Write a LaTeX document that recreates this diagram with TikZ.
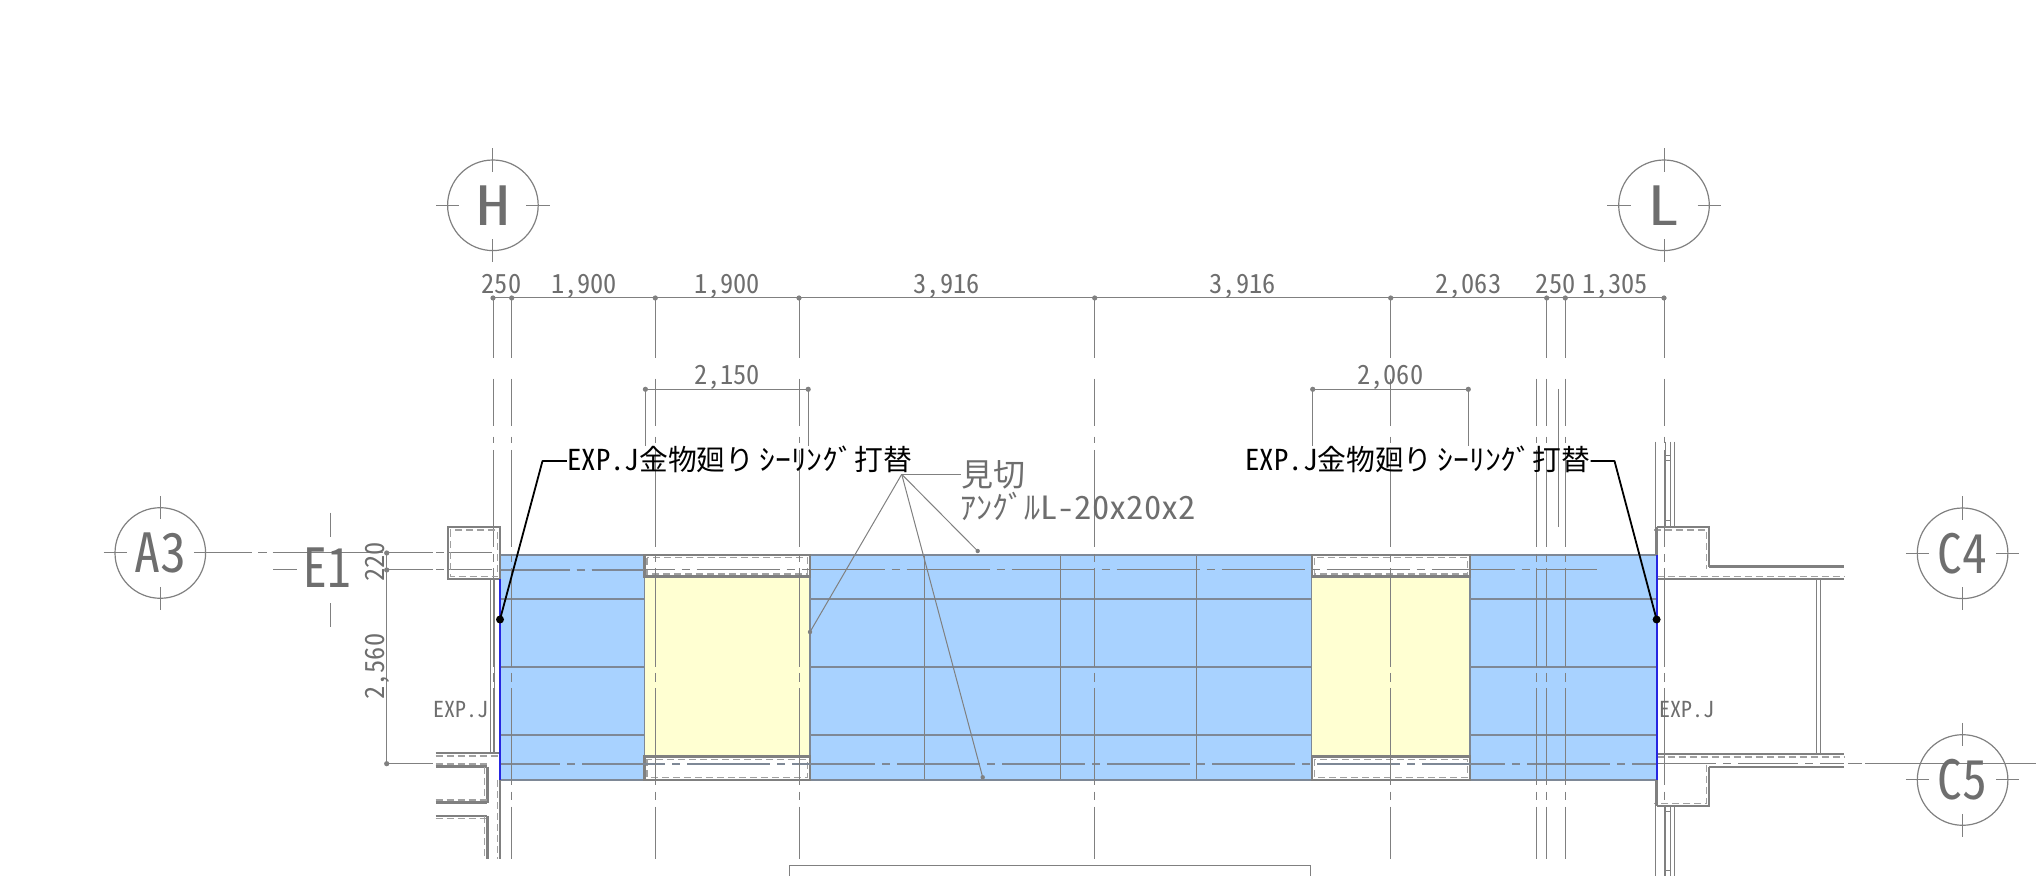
\documentclass[tikz,border=0pt]{standalone}
\usepackage{fontspec}
\newfontfamily\jp[RawFeature=+hwid]{Noto Sans CJK JP}
\setmainfont{Noto Sans CJK JP}
\definecolor{cadgray}{HTML}{808080}
\definecolor{jointgray}{HTML}{7E8896}
\definecolor{cadtext}{HTML}{6E6E6E}
\definecolor{panelblue}{HTML}{A8D2FF}
\definecolor{panelyellow}{HTML}{FFFFD2}
\definecolor{edgeblue}{HTML}{2626E0}
\newcommand\fsz[1]{\fontsize{#1pt}{#1pt}\selectfont}
\newcommand\katak[1]{\hspace{2.5pt}\scalebox{1.1}[1]{#1}}
\tikzset{
  x=0.5pt,y=-0.5pt,
  thin line/.style={draw=cadgray,line width=0.5pt},
  mid line/.style={draw=jointgray,line width=0.65pt},
  long dash/.style={dash pattern=on 41.5pt off 3.5pt on 4pt off 3.5pt},
  wall/.style={draw=cadgray,line width=1.2pt},
  walldash/.style={draw=cadgray!75,line width=0.65pt,dash pattern=on 3.5pt off 2pt},
  dimtext/.style={inner sep=0pt,anchor=base,text=cadtext,font=\jp\fsz{13.2}},
  bubble/.style={circle,draw=cadgray,line width=0.6pt,minimum size=45.3pt,inner sep=0pt,text=cadtext,font=\jp\fsz{27}},
  leadtext/.style={inner sep=0pt,anchor=base west,text=black,font=\jp\fsz{14.4}},
  notetext/.style={inner sep=0pt,anchor=base west,text=cadtext,font=\jp\fsz{16}},
  smalltext/.style={inner sep=0pt,anchor=base,text=cadtext,font=\jp\fsz{11}},
  dimdot/.style={fill=cadgray,draw=none},
}
\newcommand\vgrid[1]{%
  \foreach \ya/\yb in {298/358,378.7/426,436.7/443,450/546.7,554/561.7,568/666.7,673/681.7,688/785,791.7/800,806.7/859}
    {\draw[thin line] (#1,\ya) -- (#1,\yb);}}
\newcommand\vgridlow[1]{%
  \foreach \ya/\yb in {378.7/426,436.7/443,450/546.7,554/561.7,568/666.7,673/681.7,688/785,791.7/800,806.7/859}
    {\draw[thin line] (#1,\ya) -- (#1,\yb);}}
\newcommand\wl[3]{\draw[walldash,shift={(#1,#2)}] #3; \draw[wall] #3;}
\newcommand\ticks[2]{%
  \draw[thin line] (#1-56.8,#2) -- (#1-33.5,#2);
  \draw[thin line] (#1+33.5,#2) -- (#1+56.8,#2);
  \draw[thin line] (#1,#2-57) -- (#1,#2-33.6);
  \draw[thin line] (#1,#2+34) -- (#1,#2+57);}
\begin{document}
\begin{tikzpicture}
\useasboundingbox (0,0) rectangle (2036,876);
% panels
\fill[panelblue] (500,555) rectangle (1656.6,780);
\fill[panelyellow] (644.3,576.7) rectangle (810,756.7);
\fill[panelyellow] (1311.7,576.7) rectangle (1470,756.7);
\foreach \xa/\xb in {644.3/810,1311.7/1470}{
  \draw[mid line] (\xa,576.7) -- (\xa,756.7);
  \draw[mid line] (\xb,576.7) -- (\xb,756.7);
}
% panel joints
\foreach \yy in {599,667,735}{
  \draw[mid line] (500,\yy) -- (644.3,\yy);
  \draw[mid line] (810,\yy) -- (1311.7,\yy);
  \draw[mid line] (1470,\yy) -- (1656.6,\yy);
}
\foreach \xx in {924.7,1060.3,1196.3}{\draw[thin line] (\xx,555) -- (\xx,780);}
\draw[mid line] (500,555) -- (1656.6,555);
\draw[mid line] (500,780) -- (1656.6,780);
% recessed white boxes
\foreach \xa/\xb in {644.3/810,1311.7/1470}{
  \foreach \ya/\yb in {555/576.7,756.7/780}{
    \fill[white] (\xa,\ya) rectangle (\xb,\yb);
    \draw[walldash] (\xa+2.6,\ya+2.6) rectangle (\xb-2.6,\yb-2.6);
    \draw[wall] (\xa,\ya) rectangle (\xb,\yb);
  }
}
% horizontal grid lines
\draw[thin line,long dash,dash phase=6.65pt] (500,570) -- (1597,570);
\draw[mid line,long dash,dash phase=6.65pt] (500,570) -- (644,570);
\draw[mid line,long dash,dash phase=11.5pt] (500,764) -- (1656,764);
\draw[thin line,dash pattern=on 30pt off 3.5pt on 4pt off 3.5pt] (1656,764) -- (1844,764);
\foreach \yy in {553,570}{
  \draw[thin line] (386.7,\yy) -- (433,\yy);
  \draw[thin line] (436,\yy) -- (444,\yy);
  \draw[thin line] (449,\yy) -- (492,\yy);
}
\draw[thin line] (217,553) -- (251.7,553);
\draw[thin line] (258,553) -- (267,553);
\draw[thin line] (272.7,553) -- (383,553);
\draw[thin line] (273.3,570) -- (296.7,570);
\draw[thin line] (1865,763.5) -- (1891,763.5);
\draw[thin line] (1891,763.5) -- (2036,763.5);
\draw[thin line] (1848,763.5) -- (1862,763.5);
% vertical grid lines
\foreach \xx in {511.7,655.3,799,1094.7,1390.7,1546.7,1565.3}{\vgrid{\xx}}
\foreach \ya/\yb in {298/358,378.7/426,436.7/443,450/546.7,554/561.7,568/666.7,673/681.7,688/753}
  {\draw[thin line] (493,\ya) -- (493,\yb);}
\vgridlow{1536}
\draw[thin line] (1558.7,389) -- (1558.7,527);
\foreach \ya/\yb in {298/358,378.7/426,436.7/443,450/546.7,554/561.7,568/666.7,673/681.7,688/785,791.7/800,806.7/876}
  {\draw[thin line] (1664,\ya) -- (1664,\yb);}
% left column and walls
\draw[walldash] (450.3,529.9) rectangle (497.4,576.7);
\draw[wall] (447.7,527.3) rectangle (500,579.3);
\draw[thin line] (490.7,579) -- (490.7,753);
\draw[thin line] (494.3,579) -- (494.3,753);
\wl{0}{2.6}{(435.7,753.3) -- (500,753.3)}
\wl{0}{-2.6}{(435.7,766.7) -- (487.3,766.7)}
\wl{-2.6}{0}{(487.3,766.7) -- (487.3,802.7)}
\wl{0}{-2.6}{(435.7,802.7) -- (487.3,802.7)}
\wl{0}{2.6}{(435.7,816) -- (487.3,816)}
\wl{-2.6}{0}{(487.3,816) -- (487.3,859)}
\wl{-2.6}{0}{(500,780) -- (500,859)}
% right column and walls
\wl{-2.6}{2.6}{(1656.6,527.3) -- (1709.2,527.3) -- (1709.2,566.7)}
\draw[wall] (1709.2,566.7) -- (1844,566.7);
\wl{0}{-2.6}{(1656.6,579.3) -- (1844,579.3)}
\wl{0}{2.6}{(1656.6,754.3) -- (1844,754.3)}
\draw[wall] (1709.2,767.3) -- (1844,767.3);
\wl{-2.6}{-2.6}{(1709.2,767.3) -- (1709.2,806) -- (1656.6,806)}
\draw[thin line] (1816,579) -- (1816,754);
\draw[thin line] (1820.7,579) -- (1820.7,754);
\foreach \xx in {1655.6,1665,1670,1674}{
  \draw[thin line] (\xx,441.7) -- (\xx,527);
  \draw[thin line] (\xx,806) -- (\xx,876);
}
\draw[thin line] (1665,455.5) rectangle (1670,461);
\draw[thin line] (1665,521) rectangle (1670,527);
\draw[thin line] (1665,806) rectangle (1670,812);
\draw[thin line] (1665,870) rectangle (1670,876);
% blue edges
\draw[edgeblue,line width=1.1pt] (500,579) -- (500,780);
\draw[edgeblue,line width=1.1pt] (1656.6,555) -- (1656.6,780);
\draw[wall] (1656.6,527.3) -- (1656.6,555);
\draw[wall] (1656.6,780) -- (1656.6,806);
% lower room outline
\draw[thin line] (789,876) -- (789,865) -- (1310,865) -- (1310,876);
% dimensions
\draw[thin line] (493,298) -- (1664,298);
\foreach \xx in {493,511.7,655.3,799,1094.7,1390.7,1546.7,1565.3,1664}{\fill[dimdot] (\xx,298) circle [radius=1.3pt];}
\draw[thin line] (645.4,446) -- (645.4,389.3) -- (808.2,389.3) -- (808.2,446);
\draw[thin line] (1312.7,446) -- (1312.7,389.3) -- (1468.3,389.3) -- (1468.3,446);
\foreach \xx in {645.4,808.2,1312.7,1468.3}{\fill[dimdot] (\xx,389.3) circle [radius=1.3pt];}
\draw[thin line] (432.7,763.7) -- (386.7,763.7) -- (386.7,553);
\foreach \yy in {553,570,763.7}{\fill[dimdot] (386.7,\yy) circle [radius=1.3pt];}
\node[dimtext] (d1) at (501.4,293.5) {250};
\node[dimtext] (d2) at (584,293.5) {1,900};
\node[dimtext] (d3) at (727,293.5) {1,900};
\node[dimtext] (d4) at (946.6,293.5) {3,916};
\node[dimtext] (d5) at (1242.6,293.5) {3,916};
\node[dimtext] (d6) at (1468.3,293.5) {2,063};
\node[dimtext] (d7) at (1555.7,293.5) {250};
\node[dimtext] (d8) at (1615,293.5) {1,305};
\node[dimtext] (d9) at (727,384.3) {2,150};
\node[dimtext] (d10) at (1390.3,384.3) {2,060};
\node[dimtext,rotate=90] (d11) at (384,562) {220};
\node[dimtext,rotate=90] (d12) at (384,666.7) {2,560};
\node[smalltext] (x1) at (461,717.3) {EXP.J};
\node[smalltext] (x2) at (1687,717.3) {EXP.J};
% grid bubbles
\node[bubble] (H) at (492.9,205.3) {\scalebox{1.25}[1]{H}};
\node[bubble] (L) at (1664,205.3) {\scalebox{1.2}[1]{L}};
\node[bubble] (A3) at (160.3,553) {\scalebox{0.96}[1]{A3}};
\node[bubble] (C4) at (1962.6,553.3) {\scalebox{0.92}[1]{C4}};
\node[bubble] (C5) at (1962.6,780) {\scalebox{0.92}[1]{C5}};
\ticks{492.9}{205.3}
\ticks{1664}{205.3}
\ticks{160.3}{553}
\ticks{1962.6}{553.3}
\ticks{1962.6}{780}
\node[inner sep=0pt,text=cadtext,font=\jp\fsz{27}] (E1) at (327,568) {\scalebox{0.88}[1]{E1}};
\draw[thin line] (330.7,512.7) -- (330.7,536.7);
\draw[thin line] (330.7,603.3) -- (330.7,626.7);
% notes
\node[leadtext] (noteL) at (566.8,471) {EXP.J金物廻り\katak{ｼｰﾘﾝｸﾞ}打替};
\node[leadtext] (noteR) at (1245,471) {EXP.J金物廻り\katak{ｼｰﾘﾝｸﾞ}打替};
\coordinate (kL) at (542.5,461);
\coordinate (kR) at (1614.5,461);
\coordinate (tL) at (500,619.5);
\coordinate (tR) at (1656.6,619.5);
\draw[black,line width=0.9pt,line join=round] (noteL.west |- kL) -- (kL) -- (tL);
\draw[black,line width=0.9pt,line join=round] (noteR.east |- kR) -- (kR) -- (tR);
\fill[black] (tL) circle [radius=2pt];
\fill[black] (tR) circle [radius=2pt];
\node[notetext] (mikiri) at (961,487) {見切};
\node[notetext] (angle) at (960,519.3) {ｱﾝｸﾞﾙ\scalebox{1.08}[1]{L-20x20x2}};
\coordinate (apex) at (901.7,474.3);
\coordinate (e1) at (977.7,551);
\coordinate (e2) at (982.7,777.3);
\coordinate (e3) at (810,632);
\draw[thin line] (apex) -- (mikiri.west |- apex);
\draw[thin line] (apex) -- (e1);
\draw[thin line] (apex) -- (e2);
\draw[thin line] (apex) -- (e3);
\foreach \c in {e1,e2,e3}{\fill[dimdot] (\c) circle [radius=1.1pt];}
\end{tikzpicture}
\end{document}
